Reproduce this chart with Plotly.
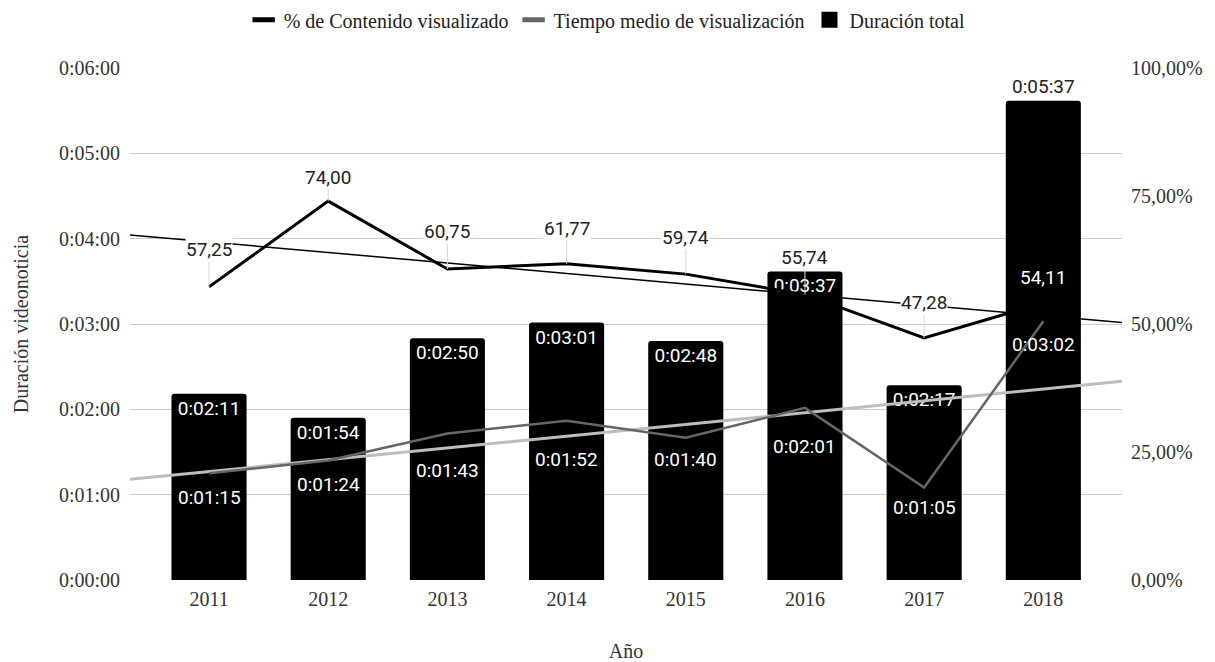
import numpy as np
import plotly.graph_objects as go

# ---- data ----
years = ["2011", "2012", "2013", "2014", "2015", "2016", "2017", "2018"]
duracion_total = ["0:02:11", "0:01:54", "0:02:50", "0:03:01", "0:02:48", "0:03:37", "0:02:17", "0:05:37"]
tiempo_medio = ["0:01:15", "0:01:24", "0:01:43", "0:01:52", "0:01:40", "0:02:01", "0:01:05", "0:03:02"]
pct_visualizado = [57.25, 74.00, 60.75, 61.77, 59.74, 55.74, 47.28, 54.11]

left_ticks = ["0:00:00", "0:01:00", "0:02:00", "0:03:00", "0:04:00", "0:05:00", "0:06:00"]
right_ticks = [0, 25, 50, 75, 100]


def to_sec(t):
    h, m, s = (int(p) for p in t.split(":"))
    return h * 3600 + m * 60 + s


def pct_text(v, dec=2):
    return f"{v:.{dec}f}".replace(".", ",")


x = np.arange(len(years))
dur_s = [to_sec(t) for t in duracion_total]
med_s = [to_sec(t) for t in tiempo_medio]

x_range = [-0.663, 7.66]

# linear trend lines spanning the full axis width
xt = np.array(x_range)
c_pct = np.polyfit(x, pct_visualizado, 1)
c_med = np.polyfit(x, med_s, 1)

LABEL_FONT = "Roboto"
AXIS_FONT = "Liberation Serif"
AXIS_SIZE = 20
LABEL_SIZE = 19
TXT = "#333333"

C_BAR = "#000000"
C_PCT = "#000000"
C_MED = "#666666"

fig = go.Figure()

n = len(years)
fig.add_trace(go.Bar(
    x=x, y=dur_s, name="Duración total",
    marker=dict(color=C_BAR, cornerradius=3, line=dict(width=0)),
    width=0.63,
    text=duracion_total,
    textposition=["inside"] * (n - 1) + ["outside"],
    insidetextanchor="end",
    textfont=dict(family=LABEL_FONT, size=LABEL_SIZE, color=["#ffffff"] * (n - 1) + ["#222222"]),
    constraintext="none",
    cliponaxis=False,
    hoverinfo="skip",
    showlegend=False,
))

fig.add_trace(go.Scatter(
    x=xt, y=np.polyval(c_med, xt), mode="lines",
    line=dict(color="#bdbdbd", width=3), showlegend=False, hoverinfo="skip",
))
fig.add_trace(go.Scatter(
    x=xt, y=np.polyval(c_pct, xt), mode="lines", yaxis="y2",
    line=dict(color="#000000", width=1.5), showlegend=False, hoverinfo="skip",
))

fig.add_trace(go.Scatter(
    x=x, y=pct_visualizado, mode="lines", yaxis="y2",
    name="% de Contenido visualizado",
    line=dict(color=C_PCT, width=3), showlegend=False,
))
fig.add_trace(go.Scatter(
    x=x, y=med_s, mode="lines",
    name="Tiempo medio de visualización",
    line=dict(color=C_MED, width=2.5), showlegend=False,
))

# legend entries: short flat keys for the lines, a square key for the bars
legend_keys = [
    ("% de Contenido visualizado", C_PCT, "line-ew", 8, 16),
    ("Tiempo medio de visualización", C_MED, "line-ew", 8, 16),
    ("Duración total", C_BAR, "square", 0, 16),
]
for name, color, symbol, lw, size in legend_keys:
    fig.add_trace(go.Scatter(
        x=[None], y=[None], mode="markers", name=name,
        marker=dict(symbol=symbol, size=size, color=color, line=dict(color=color, width=lw)),
        showlegend=True, hoverinfo="skip",
    ))

# % labels above each point with a thin leader line
pct_offsets = [37, 24, 37, 35, 37, 37, 35, 25]
annotations = []
for i, (v, off) in enumerate(zip(pct_visualizado, pct_offsets)):
    on_bar = i == n - 1
    annotations.append(dict(
        x=i, y=v, xref="x", yref="y2",
        text=pct_text(v),
        showarrow=True, arrowhead=0, arrowwidth=1,
        arrowcolor="#000000" if on_bar else "#d6d6d6",
        ax=0, ay=-off,
        font=dict(family=LABEL_FONT, size=LABEL_SIZE, color="#ffffff" if on_bar else "#222222"),
        bgcolor="#000000" if on_bar else "#ffffff",
        borderpad=0,
    ))

# average viewing time labels below each point
med_offsets = [24, 24, 37, 39, 22, 39, 20, 23]
for i, (t, s, off) in enumerate(zip(tiempo_medio, med_s, med_offsets)):
    annotations.append(dict(
        x=i, y=s, xref="x", yref="y",
        text=t, showarrow=False, yshift=-off,
        font=dict(family=LABEL_FONT, size=LABEL_SIZE, color="#ffffff"),
    ))

fig.update_layout(
    width=1215, height=662,
    margin=dict(l=130, r=93, t=68, b=82, autoexpand=False),
    paper_bgcolor="#ffffff", plot_bgcolor="#ffffff",
    font=dict(family=AXIS_FONT, size=AXIS_SIZE, color=TXT),
    showlegend=True,
    legend=dict(
        orientation="h", x=0.481, xanchor="center", y=1.094, yanchor="middle",
        font=dict(family=AXIS_FONT, size=AXIS_SIZE, color="#222222"),
        traceorder="normal", itemwidth=30,
    ),
    xaxis=dict(
        range=x_range, tickvals=list(x), ticktext=years,
        showgrid=False, zeroline=False, showline=False, ticks="",
        ticklabelstandoff=5,
        tickfont=dict(family=AXIS_FONT, size=AXIS_SIZE, color=TXT),
        title=dict(text="Año", font=dict(family=AXIS_FONT, size=AXIS_SIZE, color=TXT), standoff=34),
    ),
    yaxis=dict(
        range=[0, 360], tickvals=[to_sec(t) for t in left_ticks], ticktext=left_ticks,
        showgrid=True, gridcolor="#cccccc", gridwidth=1,
        zeroline=False, showline=False, ticks="",
        ticklabelstandoff=9,
        tickfont=dict(family=AXIS_FONT, size=AXIS_SIZE, color=TXT),
        title=dict(text="Duración videonoticia", font=dict(family=AXIS_FONT, size=AXIS_SIZE, color=TXT), standoff=24),
    ),
    yaxis2=dict(
        range=[0, 100], overlaying="y", side="right",
        tickvals=right_ticks, ticktext=[pct_text(v) + "%" for v in right_ticks],
        showgrid=False, zeroline=False, showline=False, ticks="",
        ticklabelstandoff=8,
        tickfont=dict(family=AXIS_FONT, size=AXIS_SIZE, color=TXT),
    ),
    annotations=annotations,
)

fig.write_html("out.html")
